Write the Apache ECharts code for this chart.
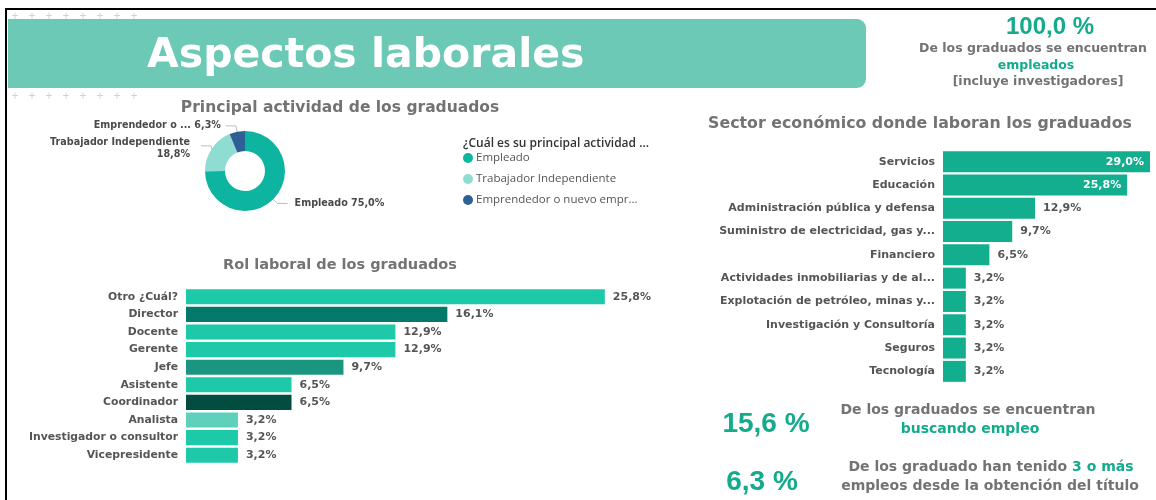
<!DOCTYPE html>
<html>
<head>
<meta charset="utf-8">
<title>Aspectos laborales</title>
<script src="https://cdn.jsdelivr.net/npm/echarts@6/dist/echarts.min.js"></script>
<style>
html, body { margin: 0; padding: 0; background: #fff; }
#main { width: 1156px; height: 500px; }
</style>
</head>
<body>
<div id="main"></div>
<script>
// actividad principal (dona)
var actividadNombres = ['Empleado', 'Trabajador Independiente', 'Emprendedor o nuevo emprendimiento'];
var actividadValores = [75.0, 18.8, 6.3];

// rol laboral
var rolNombres = ['Otro ¿Cuál?', 'Director', 'Docente', 'Gerente', 'Jefe', 'Asistente', 'Coordinador', 'Analista', 'Investigador o consultor', 'Vicepresidente'];
var rolValores = [25.8, 16.1, 12.9, 12.9, 9.7, 6.5, 6.5, 3.2, 3.2, 3.2];

// sector economico
var sectorNombres = ['Servicios', 'Educación', 'Administración pública y defensa', 'Suministro de electricidad, gas y...', 'Financiero', 'Actividades inmobiliarias y de al...', 'Explotación de petróleo, minas y...', 'Investigación y Consultoría', 'Seguros', 'Tecnología'];
var sectorValores = [29.0, 25.8, 12.9, 9.7, 6.5, 3.2, 3.2, 3.2, 3.2, 3.2];

// indicadores
var pctEmpleados = 100.0;
var pctBuscando = 15.6;
var pctTresEmpleos = 6.3;

// colores
var actividadColores = ['#0db4a0', '#8fdcd3', '#2e5f95'];
var rolColores = ['#1ec9a9', '#03796a', '#1ec9a9', '#1ec9a9', '#1a9580', '#1ec9a9', '#034c40', '#5fd0bc', '#1ec9a9', '#1ec9a9'];
var verde = '#13ab8c';
var gris = '#737373';
var FONT = '"DejaVu Sans", Verdana, sans-serif';
var NUM = '"Liberation Sans", Arial, sans-serif';

function pct(v, dec) {
	return v.toFixed(dec === undefined ? 1 : dec).replace('.', ',');
}

var chart = echarts.init(document.getElementById('main'), null, { renderer: 'canvas' });

// decoracion de cruces
var cruces = [];
[17, 97].forEach(function (yy) {
	for (var i = 0; i < 8; i++) {
		cruces.push({ type: 'text', x: 15 + i * 17, y: yy, style: { text: '+', fill: '#d2d2d2', font: '12px ' + NUM, align: 'center', verticalAlign: 'middle' } });
	}
});

var graphic = [
	{ type: 'line', shape: { x1: 5, y1: 9, x2: 1156, y2: 9 }, style: { stroke: '#000', lineWidth: 2 } },
	{ type: 'line', shape: { x1: 6, y1: 9, x2: 6, y2: 500 }, style: { stroke: '#000', lineWidth: 2 } },
	{ type: 'rect', shape: { x: 8, y: 19, width: 858, height: 69, r: [0, 9, 9, 0] }, style: { fill: '#6cc9b5' } },
	{ type: 'text', x: 147, y: 56, style: { text: 'Aspectos laborales', fill: '#fff', font: 'bold 41px ' + FONT, verticalAlign: 'middle' } },

	// indicador superior derecho
	{ type: 'text', x: 1050, y: 27, style: { text: pct(pctEmpleados) + ' %', fill: verde, font: 'bold 24px ' + NUM, align: 'center', verticalAlign: 'middle' } },
	{ type: 'text', x: 1033, y: 49, style: { text: 'De los graduados se encuentran', fill: gris, font: 'bold 12.5px ' + FONT, align: 'center', verticalAlign: 'middle' } },
	{ type: 'text', x: 1036, y: 66, style: { text: 'empleados', fill: verde, font: 'bold 12.5px ' + FONT, align: 'center', verticalAlign: 'middle' } },
	{ type: 'text', x: 1038, y: 82, style: { text: '[incluye investigadores]', fill: gris, font: 'bold 12.5px ' + FONT, align: 'center', verticalAlign: 'middle' } },

	// titulos
	{ type: 'text', x: 340, y: 108, style: { text: 'Principal actividad de los graduados', fill: gris, font: 'bold 15.5px ' + FONT, align: 'center', verticalAlign: 'middle' } },
	{ type: 'text', x: 340, y: 265, style: { text: 'Rol laboral de los graduados', fill: gris, font: 'bold 14.5px ' + FONT, align: 'center', verticalAlign: 'middle' } },
	{ type: 'text', x: 920, y: 124, style: { text: 'Sector económico donde laboran los graduados', fill: gris, font: 'bold 15.8px ' + FONT, align: 'center', verticalAlign: 'middle' } },
	{ type: 'text', x: 463, y: 144, style: { text: '¿Cuál es su principal actividad ...', fill: '#333', font: '600 12px "Open Sans", sans-serif', verticalAlign: 'middle' } },

	// indicadores inferiores
	{ type: 'text', x: 766, y: 424, style: { text: pct(pctBuscando) + ' %', fill: verde, font: 'bold 28px ' + NUM, align: 'center', verticalAlign: 'middle' } },
	{ type: 'text', x: 968, y: 410, style: { text: 'De los graduados se encuentran', fill: gris, font: 'bold 14px ' + FONT, align: 'center', verticalAlign: 'middle' } },
	{ type: 'text', x: 970, y: 429, style: { text: 'buscando empleo', fill: verde, font: 'bold 14px ' + FONT, align: 'center', verticalAlign: 'middle' } },
	{ type: 'text', x: 762, y: 482, style: { text: pct(pctTresEmpleos) + ' %', fill: verde, font: 'bold 28px ' + NUM, align: 'center', verticalAlign: 'middle' } },
	{ type: 'text', x: 991, y: 467, style: {
		text: '{g|De los graduado han tenido }{v|3 o más}', align: 'center', verticalAlign: 'middle',
		rich: { g: { fill: gris, font: 'bold 14px ' + FONT }, v: { fill: verde, font: 'bold 14px ' + FONT } }
	} },
	{ type: 'text', x: 990, y: 486, style: { text: 'empleos desde la obtención del título', fill: gris, font: 'bold 14px ' + FONT, align: 'center', verticalAlign: 'middle' } }
].concat(cruces);

var option = {
	animation: false,
	textStyle: { fontFamily: FONT },
	graphic: graphic,
	legend: {
		data: actividadNombres,
		orient: 'vertical',
		left: 463,
		top: 152,
		padding: 0,
		icon: 'circle',
		itemWidth: 10,
		itemHeight: 10,
		itemGap: 9,
		formatter: function (n) { return n.length > 24 ? n.slice(0, 24) + '...' : n; },
		textStyle: { fontFamily: '"Open Sans", sans-serif', fontSize: 11.5, color: '#555', lineHeight: 12, padding: [0, 0, 0, -2] }
	},
	grid: [
		{ left: 186, top: 288, width: 487, height: 176 },
		{ left: 943, top: 150, width: 207, height: 233 }
	],
	xAxis: [
		{ gridIndex: 0, type: 'value', min: 0, max: 30, show: false },
		{ gridIndex: 1, type: 'value', min: 0, max: 29, show: false }
	],
	yAxis: [
		{
			gridIndex: 0, type: 'category', data: rolNombres, inverse: true,
			axisLine: { show: false }, axisTick: { show: false },
			axisLabel: { margin: 8, fontSize: 10.8, fontWeight: 'bold', color: '#555' }
		},
		{
			gridIndex: 1, type: 'category', data: sectorNombres, inverse: true,
			axisLine: { show: false }, axisTick: { show: false },
			axisLabel: { margin: 8, fontSize: 11, fontWeight: 'bold', color: '#555' }
		}
	],
	series: [
		{
			type: 'pie',
			center: [245, 171],
			radius: [20, 40],
			startAngle: 90,
			color: actividadColores,
			data: actividadNombres.map(function (n, i) { return { name: n, value: actividadValores[i] }; }),
			label: {
				fontSize: 9.6, fontWeight: 'bold', color: '#4a4a4a', lineHeight: 12,
				formatter: function (p) {
					var n = p.name;
					if (n.length > 24) return n.slice(0, 13) + ' ... ' + pct(p.value) + '%';
					if (n.length > 12) return n + '\n' + pct(p.value) + '%';
					return n + ' ' + pct(p.value) + '%';
				}
			},
			labelLayout: function (p) {
				if (p.dataIndex === 1) return { dx: -6, dy: 3 };
				if (p.dataIndex === 0) return { dx: 2 };
				return {};
			},
			labelLine: { length: 6, length2: 10, lineStyle: { color: '#bdbdbd', width: 1 } }
		},
		{
			type: 'bar',
			xAxisIndex: 0, yAxisIndex: 0,
			barCategoryGap: '14%',
			data: rolValores.map(function (v, i) { return { value: v, itemStyle: { color: rolColores[i] } }; }),
			label: { show: true, position: 'right', distance: 8, fontSize: 11, fontWeight: 'bold', color: '#555', formatter: function (p) { return pct(p.value) + '%'; } }
		},
		{
			type: 'bar',
			xAxisIndex: 1, yAxisIndex: 1,
			barCategoryGap: '10%',
			itemStyle: { color: '#13ae8e' },
			data: sectorValores.map(function (v, i) {
				var d = { value: v };
				if (i < 2) d.label = { position: 'insideRight', color: '#fff', distance: 6 };
				return d;
			}),
			label: { show: true, position: 'right', distance: 8, fontSize: 11, fontWeight: 'bold', color: '#555', formatter: function (p) { return pct(p.value) + '%'; } }
		}
	]
};

chart.setOption(option);
</script>
</body>
</html>
